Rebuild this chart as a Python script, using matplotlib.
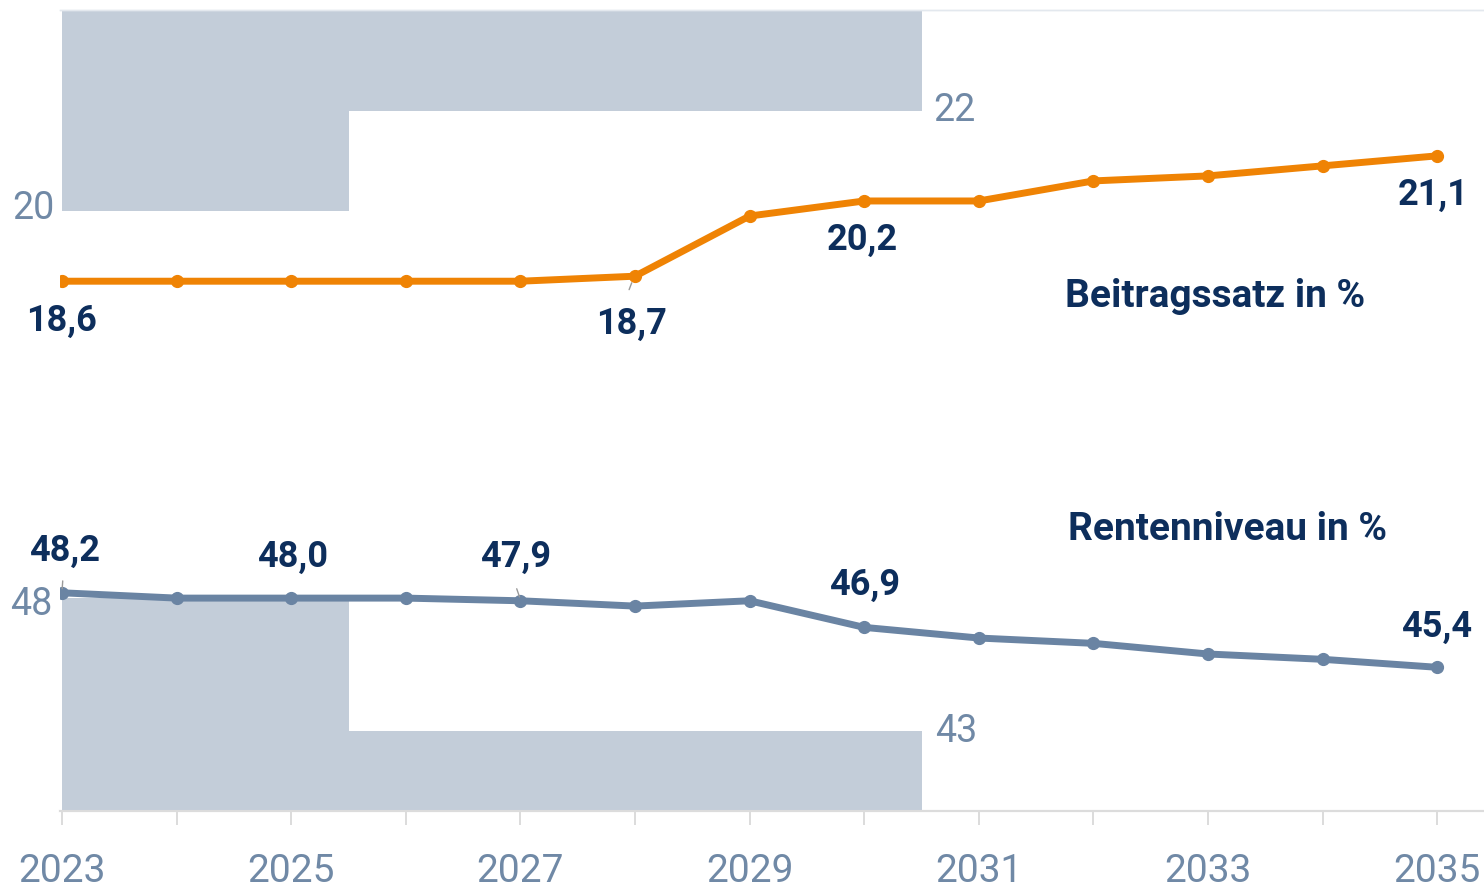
import numpy as np
import matplotlib
matplotlib.use('Agg')
import matplotlib.pyplot as plt

# data
years = [2023, 2024, 2025, 2026, 2027, 2028, 2029, 2030, 2031, 2032, 2033, 2034, 2035]
beitragssatz = [18.6, 18.6, 18.6, 18.6, 18.6, 18.7, 19.9, 20.2, 20.2, 20.6, 20.7, 20.9, 21.1]
rentenniveau = [48.2, 48.0, 48.0, 48.0, 47.9, 47.7, 47.9, 46.9, 46.5, 46.3, 45.9, 45.7, 45.4]
tick_years = [2023, 2025, 2027, 2029, 2031, 2033, 2035]

# Haltelinien
limit_x = [2023, 2025.5, 2030.5]
beitrag_limit = [20, 22, 22]
renten_limit = [48, 43, 43]

orange = '#ef8304'
bluegrey = '#6a84a3'
shade = '#c3cdd9'
navy = '#0d2e5c'
tickcol = '#7089a6'

plt.rcParams['font.family'] = ['Roboto', 'DejaVu Sans']

fig = plt.figure(figsize=(14.84, 8.88), dpi=100)
ax = fig.add_axes([60 / 1484, 77 / 888, 1424 / 1484, 801 / 888])
ax2 = ax.twinx()

ax.set_xlim(2023 - 2 / 114.6, 2023 + 1422 / 114.6)
ax.set_ylim(8.036, 24.008)
ax2.set_ylim(40, 70.1)

# shaded regions
ax.fill_between(limit_x, beitrag_limit, 30, step='post', color=shade, lw=0, zorder=1)
ax2.fill_between(limit_x, 30, renten_limit, step='post', color=shade, lw=0, zorder=1)

ax.plot(years, beitragssatz, color=orange, lw=5, marker='o', ms=8.5, zorder=3)
ax2.plot(years, rentenniveau, color=bluegrey, lw=5, marker='o', ms=8.5, zorder=3)

# limit labels
lim_kw = dict(fontsize=27, color=tickcol, fontweight='normal')
ax.text(2023 - 8 / 114.6, 20.04, '20', ha='right', va='center', **lim_kw)
ax.text(2030.5 + 12 / 114.6, 22, '22', ha='left', va='center', **lim_kw)
ax2.text(2023 - 10 / 114.6, 47.75, '48', ha='right', va='center', **lim_kw)
ax2.text(2030.5 + 14 / 114.6, 43, '43', ha='left', va='center', **lim_kw)

# value labels (index, dx, dy in pixels)
top_labels = [(0, -1, -40, False), (5, -4, -48, True), (7, -2, -39, False), (12, -4, -39, False)]
for i, dx, dy, lead in top_labels:
    txt = f'{beitragssatz[i]:.1f}'.replace('.', ',')
    ax.annotate(txt, (years[i], beitragssatz[i]), xytext=(dx / 1.389, dy / 1.389),
                textcoords='offset points', ha='center', va='center', fontsize=26,
                fontweight='bold', color=navy, zorder=5)
    if lead:
        ax.annotate('', (years[i] - 0.02, beitragssatz[i] - 0.08),
                    xytext=(years[i] - 0.06, beitragssatz[i] - 0.32),
                    arrowprops=dict(arrowstyle='-', color='#9a9a9a', lw=1))

bottom_labels = [(0, 3, 42, True), (2, 1, 41, False), (4, -5, 44, True), (7, 0, 42, False), (12, -1, 40, False)]
for i, dx, dy, lead in bottom_labels:
    txt = f'{rentenniveau[i]:.1f}'.replace('.', ',')
    ax2.annotate(txt, (years[i], rentenniveau[i]), xytext=(dx / 1.389, dy / 1.389),
                 textcoords='offset points', ha='center', va='center', fontsize=26,
                 fontweight='bold', color=navy, zorder=5)
    if lead:
        ax2.annotate('', (years[i], rentenniveau[i] + 0.05),
                     xytext=(years[i] - 0.04 * (1 if i == 4 else -0.2), rentenniveau[i] + 0.55),
                     arrowprops=dict(arrowstyle='-', color='#9a9a9a', lw=1))

ax.text(2031.75, 18.29, 'Beitragssatz in %', ha='left', va='center', fontsize=28,
        fontweight='bold', color=navy)
ax2.text(2031.78, 50.56, 'Rentenniveau in %', ha='left', va='center', fontsize=28,
         fontweight='bold', color=navy)

# axes styling
for a in (ax, ax2):
    a.spines['left'].set_visible(False)
    a.spines['right'].set_visible(False)
    a.spines['top'].set_color('#e3e8ee')
    a.spines['top'].set_linewidth(1)
    a.spines['bottom'].set_color('#dcdcdc')
    a.spines['bottom'].set_linewidth(1.5)
    a.set_yticks([])
ax.set_xticks(years)
ax.set_xticklabels([str(y) if y in tick_years else '' for y in years])
ax.tick_params(axis='x', length=10, width=1.2, color='#d6d6d6', pad=20,
               labelsize=28, labelcolor=tickcol)

fig.savefig('out.png', dpi=100)
